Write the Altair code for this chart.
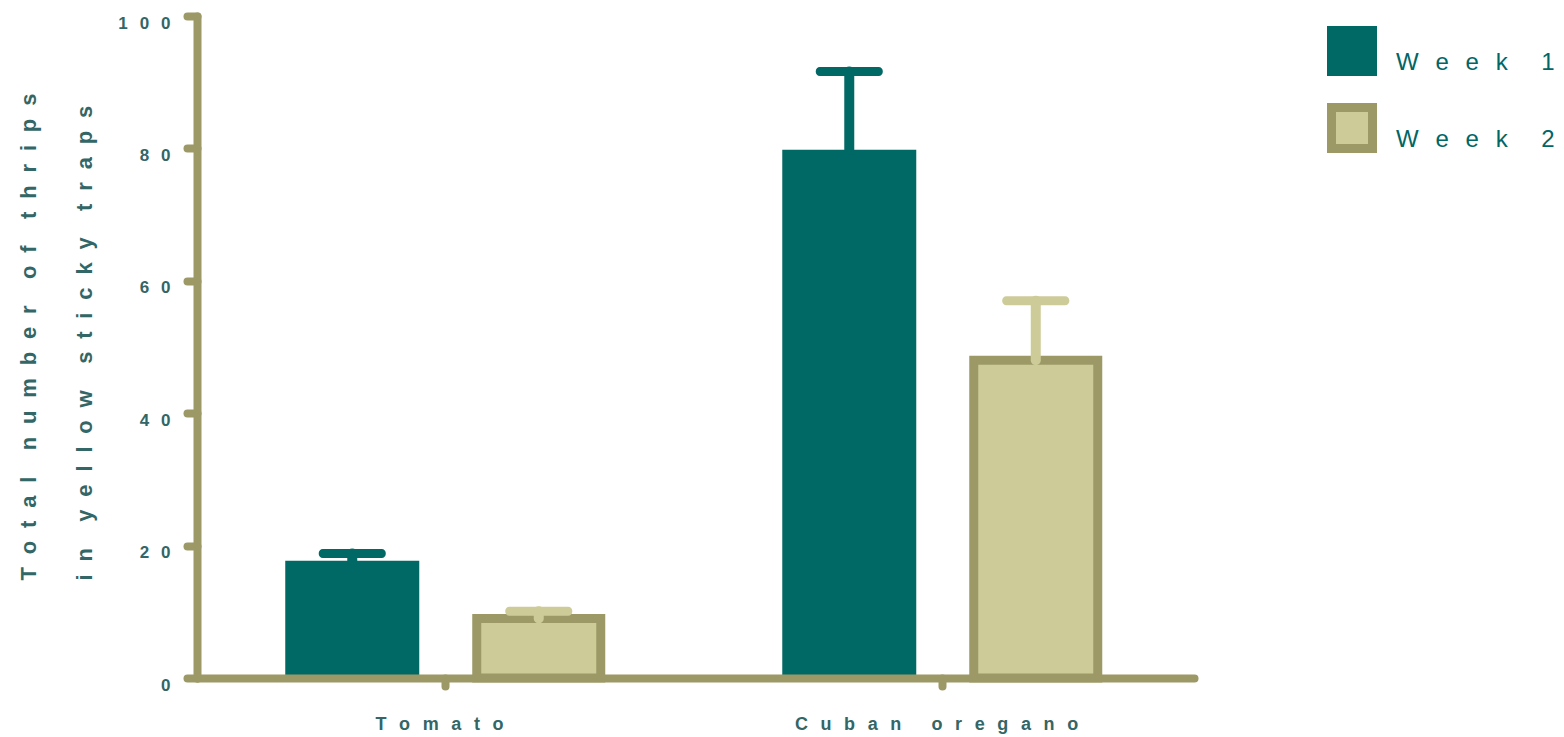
import altair as alt
import pandas as pd

# Thrips counts per plant and week (mean and upper error limit)
plants = ["Tomato", "Tomato", "Cuban oregano", "Cuban oregano"]
weeks = ["Week 1", "Week 2", "Week 1", "Week 2"]
means = [17.7, 9.0, 79.8, 48.0]
uppers = [18.8, 10.1, 91.6, 57.0]

plant_order = ["Tomato", "Cuban oregano"]
week_order = ["Week 1", "Week 2"]
y_ticks = [0, 20, 40, 60, 80, 100]

TEAL = "#006865"
OLIVE = "#9C9966"
LIGHT = "#CDCC99"
TEXT = "#336666"
FONT = "Liberation Sans"

SPACE_EXPR = "join(split(datum.label, ''), '\u2002\u2009')"


def spaced(text, gap="\u2002\u200a", word_gap="\u2002\u2002\u2009"):
    words = text.split(" ")
    return word_gap.join(gap.join(list(w)) for w in words)


title_lines = [spaced("Total number of thrips"), spaced("in yellow sticky traps")]
legend_labels = {w: spaced(w, gap="\u2002\u2009", word_gap="\u2002\u2002\u2009\u2009") for w in week_order}
legend_expr = " : ".join(
    f"datum.label === '{w}' ? '{legend_labels[w]}'" for w in week_order
) + " : datum.label"

df = pd.DataFrame({"plant": plants, "week": weeks, "mean": means, "upper": uppers})

x_enc = alt.X(
    "plant:N",
    sort=plant_order,
    scale=alt.Scale(domain=plant_order, paddingInner=0, paddingOuter=0.003, align=0),
    axis=alt.Axis(
        title=None,
        labelExpr=SPACE_EXPR,
        labelFont=FONT,
        labelFontSize=18,
        labelFontWeight="bold",
        labelColor=TEXT,
        labelAngle=0,
        labelBaseline="top",
        labelPadding=29,
        labelOffset=-6,
        labelLimit=0,
        domainColor=OLIVE,
        domainWidth=8,
        domainCap="round",
        tickColor=OLIVE,
        tickWidth=8,
        tickSize=8,
        tickCap="round",
        zindex=1,
    ),
)
xoff_enc = alt.XOffset(
    "week:N",
    scale=alt.Scale(domain=week_order, paddingInner=0, paddingOuter=0.3325),
)
y_scale = alt.Scale(domain=[0, 100], nice=False)
y_enc = alt.Y(
    "mean:Q",
    scale=y_scale,
    axis=alt.Axis(
        values=y_ticks,
        title=title_lines,
        titleFont=FONT,
        titleFontSize=22,
        titleFontWeight="bold",
        titleColor=TEXT,
        titleAngle=-90,
        titleAlign="left",
        titleBaseline="alphabetic",
        titleLineHeight=56,
        titleX=-162,
        titleY=564,
        labelExpr=SPACE_EXPR,
        labelFont=FONT,
        labelFontSize=17,
        labelFontWeight="bold",
        labelColor=TEXT,
        labelPadding=17,
        labelOffset=7,
        labelLimit=0,
        grid=False,
        domainColor=OLIVE,
        domainWidth=8,
        domainCap="round",
        tickColor=OLIVE,
        tickWidth=8,
        tickSize=10,
        tickCap="round",
        zindex=1,
    ),
)

legend_common = dict(
    title=None,
    orient="none",
    legendX=1130,
    legendY=10,
    symbolType="square",
    symbolSize=1681,
    symbolStrokeWidth=9,
    labelFont=FONT,
    labelFontSize=24,
    labelBaseline="top",
    labelOffset=19,
    labelLimit=0,
    labelExpr=legend_expr,
    rowPadding=-1,
)

# Filled swatches with the labels
fill_legend = alt.Legend(symbolOpacity=1, labelColor="#006666", zindex=1, **legend_common)
# Outline-only swatches drawn over the filled ones
outline_legend = alt.Legend(
    symbolOpacity=1, symbolFillColor="transparent", labelOpacity=0, zindex=2, **legend_common
)

fill_enc = alt.Color(
    "week:N", scale=alt.Scale(domain=week_order, range=[TEAL, LIGHT]), legend=fill_legend
)
stroke_enc = alt.Stroke(
    "week_outline:N", scale=alt.Scale(range=[TEAL, OLIVE]), legend=outline_legend
)

base = alt.Chart(df).transform_calculate(week_outline="datum.week")

bars_w1 = base.transform_filter(alt.datum.week == "Week 1").mark_bar(
    width=134, strokeWidth=0, opacity=1
).encode(x=x_enc, xOffset=xoff_enc, y=y_enc, color=fill_enc, stroke=stroke_enc)

bars_w2 = base.transform_filter(alt.datum.week == "Week 2").mark_bar(
    width=124, strokeWidth=9, opacity=1
).encode(x=x_enc, xOffset=xoff_enc, y=y_enc, color=fill_enc, stroke=stroke_enc)

err_color = alt.Color("week:N", scale=alt.Scale(domain=week_order, range=[TEAL, LIGHT]), legend=None)

stems = base.mark_rule(strokeWidth=10, strokeCap="round").encode(
    x=x_enc, xOffset=xoff_enc, y=alt.Y("mean:Q", scale=y_scale), y2="upper:Q", color=err_color
)
caps = base.mark_tick(size=67, thickness=9, orient="horizontal", opacity=1, cornerRadius=4).encode(
    x=x_enc, xOffset=xoff_enc, y=alt.Y("upper:Q", scale=y_scale), color=err_color
)

chart = (
    alt.layer(bars_w1, bars_w2, stems, caps)
    .properties(
        width=997,
        height=662,
        autosize=alt.AutoSizeParams(type="none"),
        padding={"left": 197, "top": 16, "right": 370, "bottom": 59},
        background="white",
    )
    .configure_view(stroke=None)
)

chart.save("out.html", embed_options={"renderer": "svg", "actions": False})
